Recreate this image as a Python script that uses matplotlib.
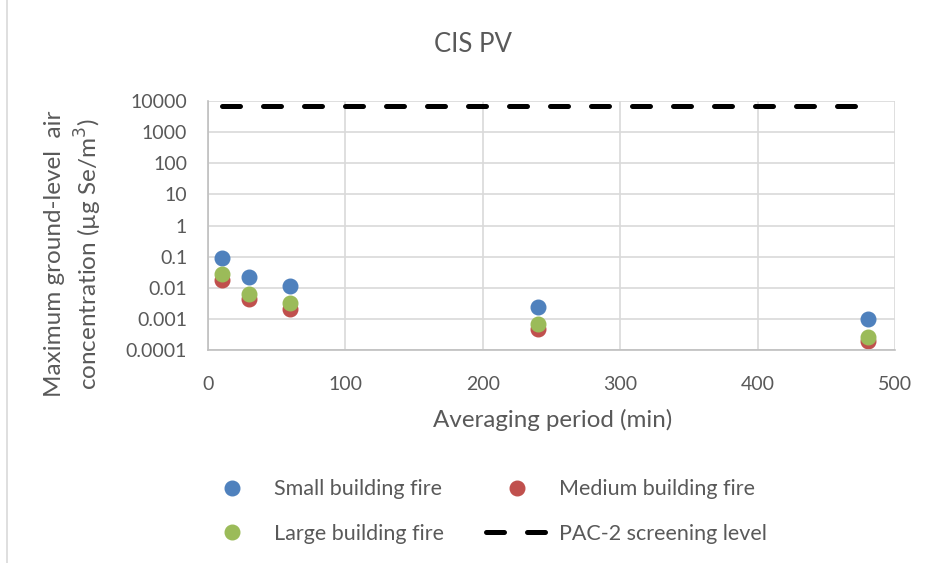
import matplotlib.pyplot as plt
from matplotlib.patches import Rectangle

plt.rcParams['font.family'] = ['Lato', 'DejaVu Sans']

period = [10, 30, 60, 240, 480]
small = [0.09, 0.023, 0.0115, 0.0025, 0.001]
medium = [0.018, 0.0043, 0.0021, 0.00048, 0.00019]
large = [0.028, 0.0065, 0.0032, 0.0007, 0.00027]
pac2 = [7000, 7000, 7000, 7000, 7000]

grey = '#595959'

fig = plt.figure(figsize=(9.3, 5.63), dpi=100)
ax = fig.add_axes([0.2237, 0.3783, 0.7387, 0.4423])

h_small, = ax.plot(period, small, 'o', color='#4F81BD', markersize=10.5, label='Small building fire')
h_med, = ax.plot(period, medium, 'o', color='#C0504D', markersize=10.5, label='Medium building fire')
h_large, = ax.plot(period, large, 'o', color='#9BBB59', markersize=10.5, label='Large building fire')
h_pac, = ax.plot(period, pac2, color='black', linewidth=3.6, dashes=(3.6, 4.6),
                 dash_capstyle='round', label='PAC-2 screening level')

ax.set_yscale('log')
ax.set_ylim(1e-4, 1e4)
ax.set_xlim(0, 500)
ax.set_yticks([1e-4, 1e-3, 1e-2, 0.1, 1, 10, 100, 1000, 10000])
ax.set_yticklabels(['0.0001', '0.001', '0.01', '0.1', '1', '10', '100', '1000', '10000'])
ax.minorticks_off()
ax.set_xticks([0, 100, 200, 300, 400, 500])
ax.tick_params(axis='y', length=0, labelsize=14, labelcolor=grey, pad=15)
ax.tick_params(axis='x', length=0, labelsize=14, labelcolor=grey, pad=19)
ax.grid(color='#d9d9d9', linewidth=1.2)
ax.set_axisbelow(True)
for s in ['top', 'right']:
    ax.spines[s].set_visible(False)
for s in ['left', 'bottom']:
    ax.spines[s].set_color('#bfbfbf')
    ax.spines[s].set_linewidth(1.2)

fig.text(0.509, 1 - 45 / 563, 'CIS PV', fontsize=18.5, color=grey, ha='center', va='center')
fig.text(0.5946, 1 - 420 / 563, 'Averaging period (min)', fontsize=17.4, color=grey,
         ha='center', va='center')
fig.text(0.0796, 1 - 254 / 563, 'Maximum ground-level  air\nconcentration (µg Se/m$^3$)',
         fontsize=17.5, color=grey, rotation=90, ha='center', va='center',
         multialignment='center', linespacing=1.3)

fig.legend([h_small, h_large, h_med, h_pac],
           ['Small building fire', 'Large building fire', 'Medium building fire',
            'PAC-2 screening level'],
           loc='upper left', bbox_to_anchor=(201 / 930, 0.149), ncol=2, frameon=False,
           fontsize=15.5, labelcolor=grey, columnspacing=1.95, handlelength=2.9,
           handletextpad=0.5, labelspacing=1.15, borderpad=0, borderaxespad=0)

fig.patches.append(Rectangle((0.008, -0.01), 1.1, 1.1, transform=fig.transFigure,
                             fill=False, edgecolor='#d9d9d9', linewidth=1.2))

fig.savefig('out.png')
